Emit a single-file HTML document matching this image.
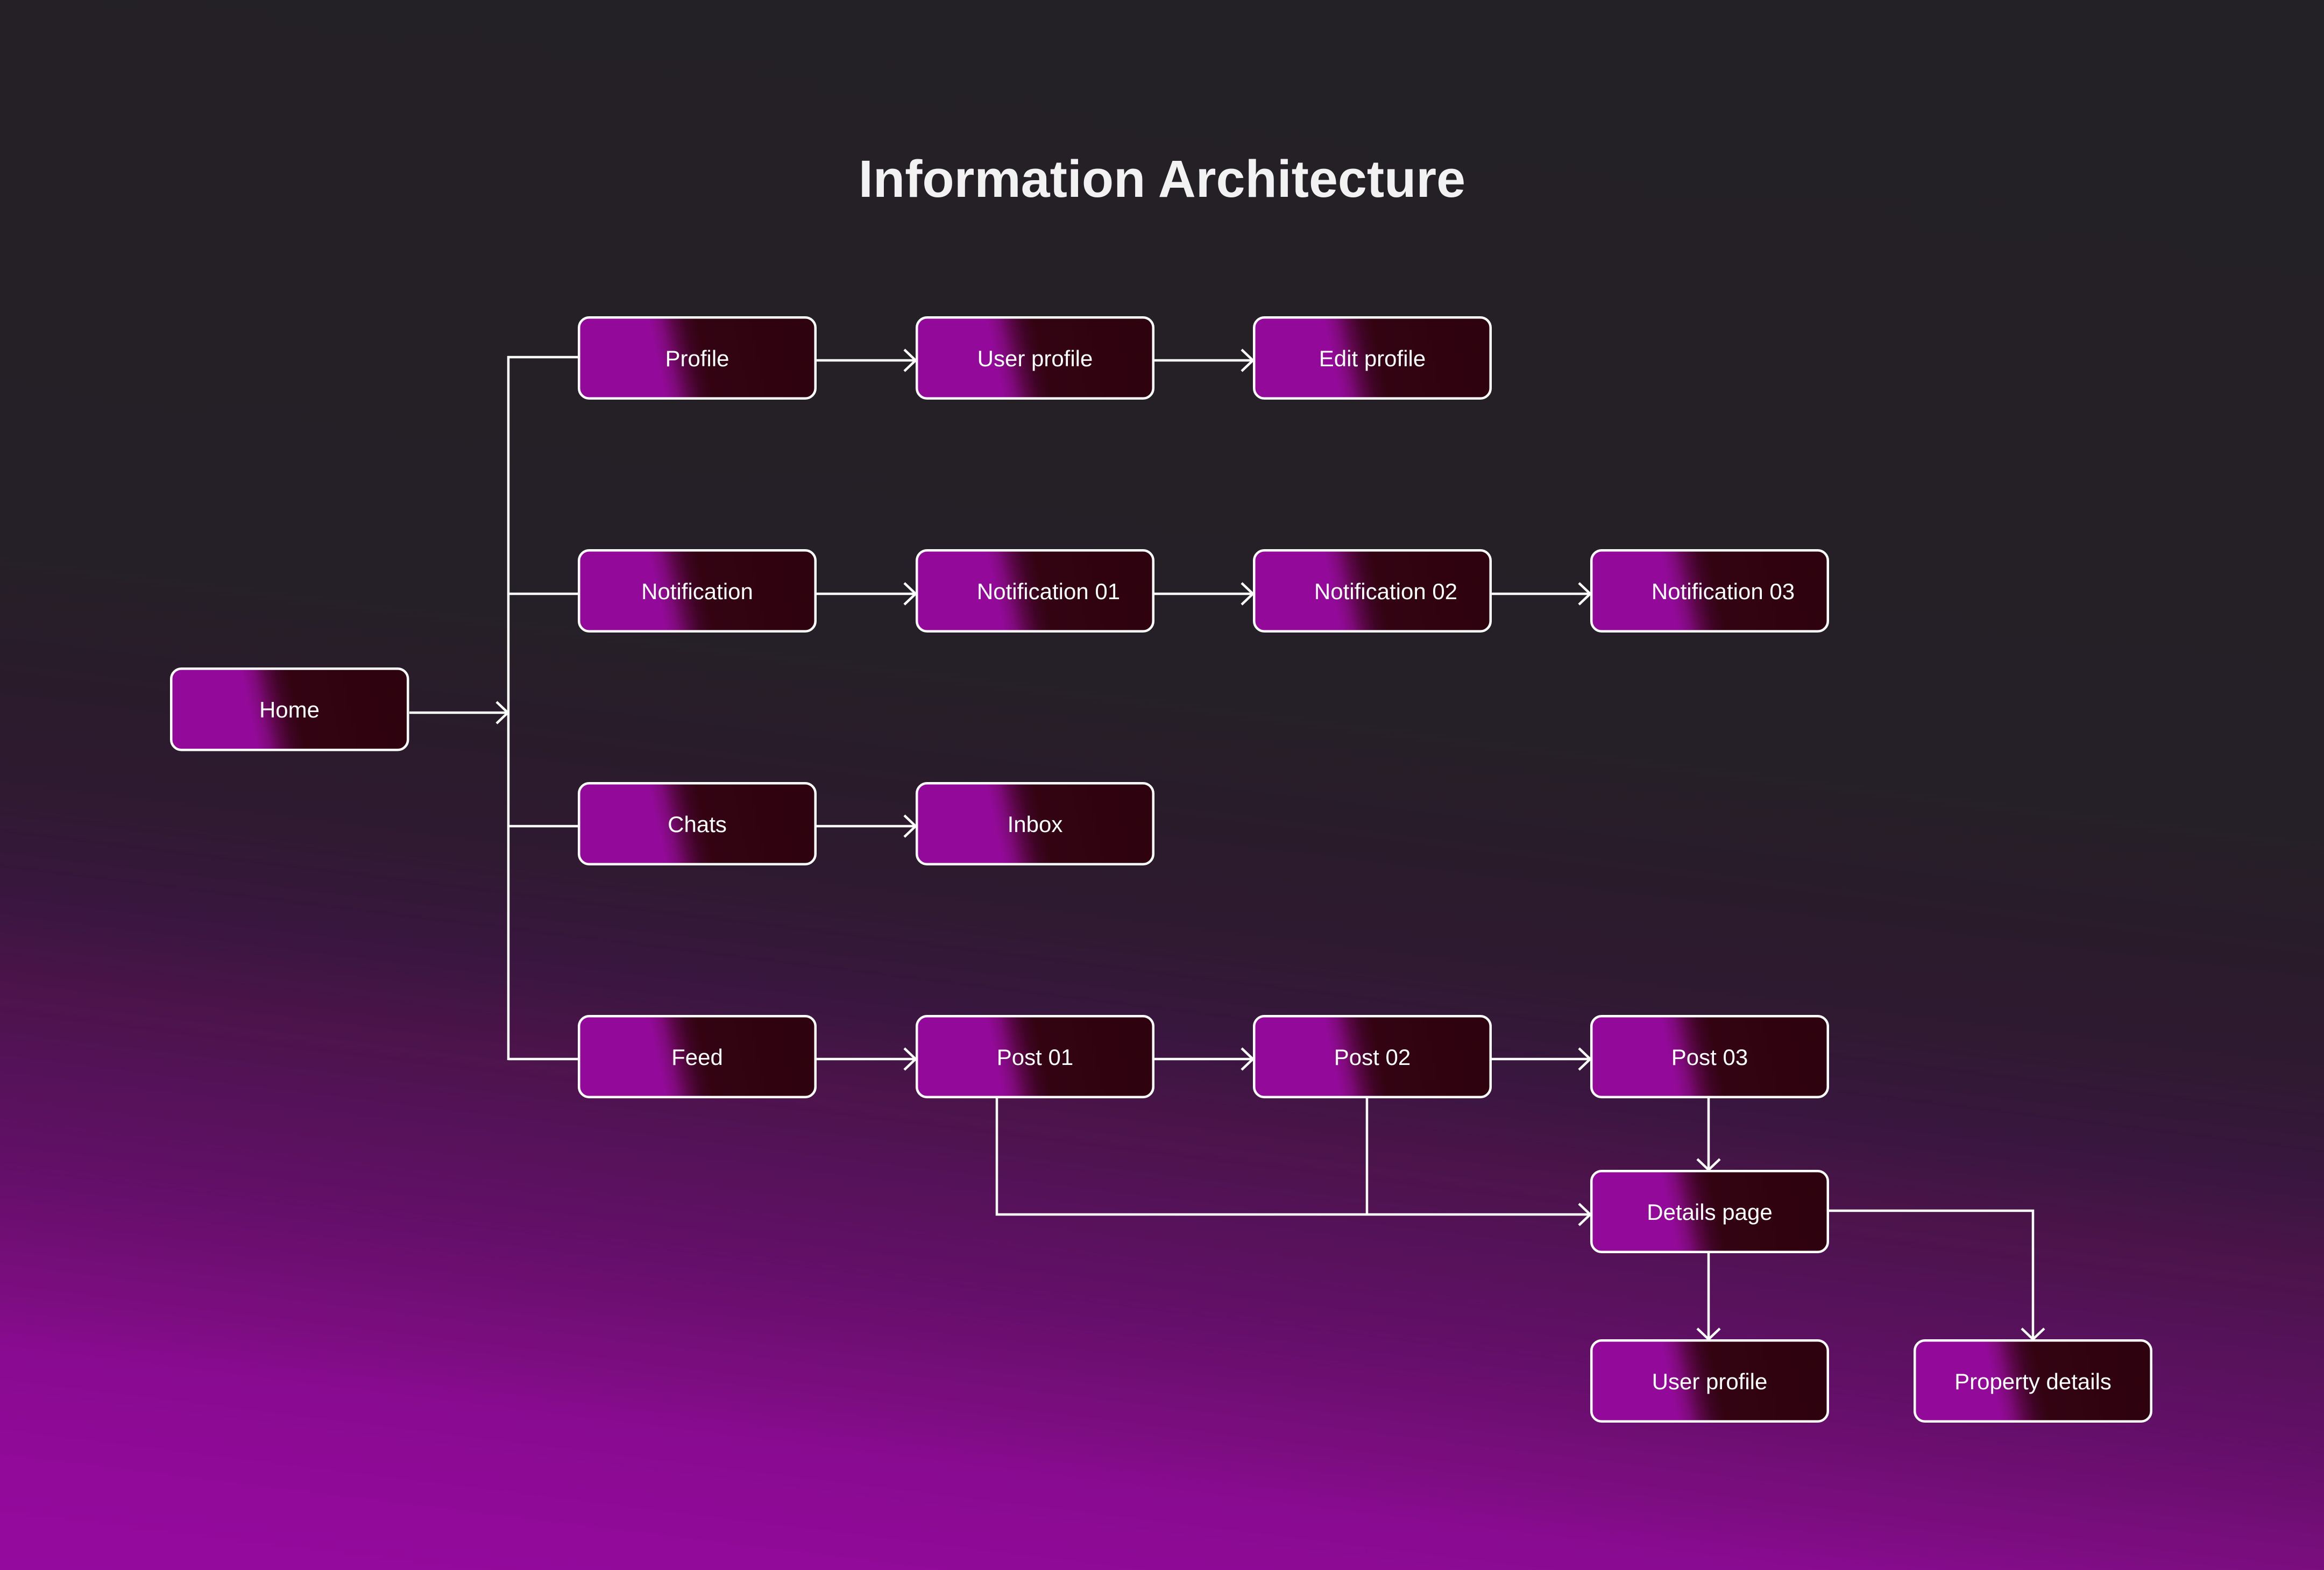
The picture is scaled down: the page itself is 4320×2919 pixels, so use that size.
<!DOCTYPE html>
<html>
<head>
<meta charset="utf-8">
<style>
  html, body { margin: 0; padding: 0; }
  body {
    width: 4320px; height: 2919px; overflow: hidden;
    background: linear-gradient(187deg,
      #232125 0%, #252027 45%, #2a1b2b 52%, #2f1a31 58%, #3a1640 64%,
      #4a1449 68%, #551259 73%, #650f6a 79%, #7c0d80 85%, #880b90 88%,
      #910a99 94%, #950a9e 100%);
  }
  svg { position: absolute; left: 0; top: 0; }
  text { font-family: "Liberation Sans", Arial, sans-serif; }
</style>
</head>
<body>
<svg width="4320" height="2919" viewBox="0 0 4320 2919" xmlns="http://www.w3.org/2000/svg">
  <defs>
    <linearGradient id="ng" x1="0" y1="0.537" x2="1" y2="0.463">
      <stop offset="0" stop-color="#930a9a"/>
      <stop offset="0.33" stop-color="#930a9a"/>
      <stop offset="0.38" stop-color="#800a7c"/>
      <stop offset="0.43" stop-color="#5c0749"/>
      <stop offset="0.48" stop-color="#3f0425"/>
      <stop offset="0.53" stop-color="#330312"/>
      <stop offset="1" stop-color="#2e020e"/>
    </linearGradient>
  </defs>

  <!-- Title -->
  <text x="2160" y="366" font-size="97" font-weight="bold" fill="#f2f2f2" text-anchor="middle">Information Architecture</text>

  <!-- Connectors -->
  <g stroke="#ffffff" stroke-width="4.5" fill="none" stroke-linecap="butt" stroke-linejoin="miter">
    <!-- Home -> bus -->
    <path d="M761 1325 H944"/>
    <path d="M923 1305 L944 1325 L923 1345"/>
    <!-- bus -->
    <path d="M945 662 V1971"/>
    <path d="M943 664 H1074"/>
    <path d="M945 1104 H1074"/>
    <path d="M945 1536 H1074"/>
    <path d="M945 1969 H1074"/>

    <!-- Row 1 -->
    <path d="M1518 670 H1702"/><path d="M1681 650 L1702 670 L1681 690"/>
    <path d="M2146 670 H2329"/><path d="M2308 650 L2329 670 L2308 690"/>
    <!-- Row 2 -->
    <path d="M1518 1104 H1702"/><path d="M1681 1084 L1702 1104 L1681 1124"/>
    <path d="M2146 1104 H2329"/><path d="M2308 1084 L2329 1104 L2308 1124"/>
    <path d="M2773 1104 H2956"/><path d="M2935 1084 L2956 1104 L2935 1124"/>
    <!-- Row 3 -->
    <path d="M1518 1536 H1702"/><path d="M1681 1516 L1702 1536 L1681 1556"/>
    <!-- Row 4 -->
    <path d="M1518 1969 H1702"/><path d="M1681 1949 L1702 1969 L1681 1989"/>
    <path d="M2146 1969 H2329"/><path d="M2308 1949 L2329 1969 L2308 1989"/>
    <path d="M2773 1969 H2956"/><path d="M2935 1949 L2956 1969 L2935 1989"/>

    <!-- Post 01 / Post 02 -> Details -->
    <path d="M1853 2041 V2258 H2956"/>
    <path d="M2541 2041 V2258"/>
    <path d="M2935 2238 L2956 2258 L2935 2278"/>
    <!-- Post 03 -> Details -->
    <path d="M3176 2041 V2175"/>
    <path d="M3155 2155 L3176 2175 L3197 2155"/>
    <!-- Details -> User profile -->
    <path d="M3176 2329 V2490"/>
    <path d="M3155 2470 L3176 2490 L3197 2470"/>
    <!-- Details -> Property details -->
    <path d="M3399 2251 H3779 V2490"/>
    <path d="M3758 2470 L3779 2490 L3800 2470"/>
  </g>

  <!-- Nodes -->
  <g stroke="#ffffff" stroke-width="4.5" fill="url(#ng)">
    <rect x="318.25" y="1243.25" width="440" height="151" rx="19"/>

    <rect x="1076.25" y="590.25" width="439.5" height="150.5" rx="19"/>
    <rect x="1704.25" y="590.25" width="439.5" height="150.5" rx="19"/>
    <rect x="2331.25" y="590.25" width="439.5" height="150.5" rx="19"/>

    <rect x="1076.25" y="1023.25" width="439.5" height="150.5" rx="19"/>
    <rect x="1704.25" y="1023.25" width="439.5" height="150.5" rx="19"/>
    <rect x="2331.25" y="1023.25" width="439.5" height="150.5" rx="19"/>
    <rect x="2958.25" y="1023.25" width="439.5" height="150.5" rx="19"/>

    <rect x="1076.25" y="1456.25" width="439.5" height="150.5" rx="19"/>
    <rect x="1704.25" y="1456.25" width="439.5" height="150.5" rx="19"/>

    <rect x="1076.25" y="1889.25" width="439.5" height="150.5" rx="19"/>
    <rect x="1704.25" y="1889.25" width="439.5" height="150.5" rx="19"/>
    <rect x="2331.25" y="1889.25" width="439.5" height="150.5" rx="19"/>
    <rect x="2958.25" y="1889.25" width="439.5" height="150.5" rx="19"/>

    <rect x="2958.25" y="2177.25" width="439.5" height="150.5" rx="19"/>

    <rect x="2958.25" y="2492.25" width="439.5" height="150.5" rx="19"/>
    <rect x="3559.25" y="2492.25" width="439.5" height="150.5" rx="19"/>
  </g>

  <!-- Labels -->
  <g font-size="42" fill="#ffffff" text-anchor="middle">
    <text x="538" y="1334">Home</text>

    <text x="1296" y="681">Profile</text>
    <text x="1924" y="681">User profile</text>
    <text x="2551" y="681">Edit profile</text>

    <text x="1296" y="1114">Notification</text>
    <text x="1949" y="1114">Notification 01</text>
    <text x="2576" y="1114">Notification 02</text>
    <text x="3203" y="1114">Notification 03</text>

    <text x="1296" y="1547">Chats</text>
    <text x="1924" y="1547">Inbox</text>

    <text x="1296" y="1980">Feed</text>
    <text x="1924" y="1980">Post 01</text>
    <text x="2551" y="1980">Post 02</text>
    <text x="3178" y="1980">Post 03</text>

    <text x="3178" y="2268">Details page</text>

    <text x="3178" y="2583">User profile</text>
    <text x="3779" y="2583">Property details</text>
  </g>
</svg>
</body>
</html>
